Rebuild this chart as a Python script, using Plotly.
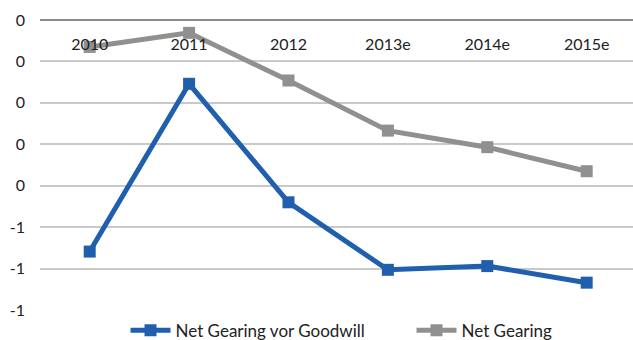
import plotly.graph_objects as go

categories = ["2010", "2011", "2012", "2013e", "2014e", "2015e"]
net_gearing_vor_goodwill = [-0.559, -0.154, -0.44, -0.603, -0.594, -0.634]
net_gearing = [-0.065, -0.031, -0.146, -0.267, -0.307, -0.365]
y_tick_values = [0, -0.1, -0.2, -0.3, -0.4, -0.5, -0.6, -0.7]
y_tick_labels = ["0", "0", "0", "0", "0", "-1", "-1", "-1"]

FONT = "Lato"
x_idx = list(range(len(categories)))

fig = go.Figure()
fig.add_trace(go.Scatter(
    x=x_idx, y=net_gearing_vor_goodwill, name="Net Gearing vor Goodwill",
    mode="lines+markers",
    line=dict(color="#1f5fae", width=5),
    marker=dict(symbol="square", size=12, color="#1f5fae"),
))
fig.add_trace(go.Scatter(
    x=x_idx, y=net_gearing, name="Net Gearing",
    mode="lines+markers",
    line=dict(color="#909090", width=5),
    marker=dict(symbol="square", size=12, color="#909090"),
))

fig.update_layout(
    width=633, height=340,
    margin=dict(l=40, r=0, t=20, b=30, autoexpand=False),
    paper_bgcolor="white", plot_bgcolor="white",
    font=dict(family=FONT, size=16, color="#222222"),
    showlegend=True,
    legend=dict(orientation="h", x=0.6265, xanchor="center",
                yref="container", y=0.027, yanchor="middle",
                font=dict(size=17, color="#222222"), itemwidth=40,
                entrywidth=231, entrywidthmode="pixels",
                traceorder="normal", bgcolor="rgba(0,0,0,0)"),
    xaxis=dict(
        tickmode="array", tickvals=x_idx, ticktext=categories,
        range=[-0.5, 5.466], side="bottom", anchor="free", position=1,
        ticks="", ticklabelstandoff=10,
        showgrid=False, zeroline=False,
        showline=True, linecolor="#8c8c8c", linewidth=2,
        tickfont=dict(size=16, color="#222222"),
        fixedrange=True,
    ),
    yaxis=dict(
        tickmode="array", tickvals=y_tick_values, ticktext=y_tick_labels,
        range=[-0.7, 0], showgrid=True, gridcolor="#c9c9c9", gridwidth=1.5,
        zeroline=False, ticks="", ticklabelstandoff=14,
        tickfont=dict(size=16, color="#222222"),
        fixedrange=True,
    ),
)

fig.write_html("out.html")
